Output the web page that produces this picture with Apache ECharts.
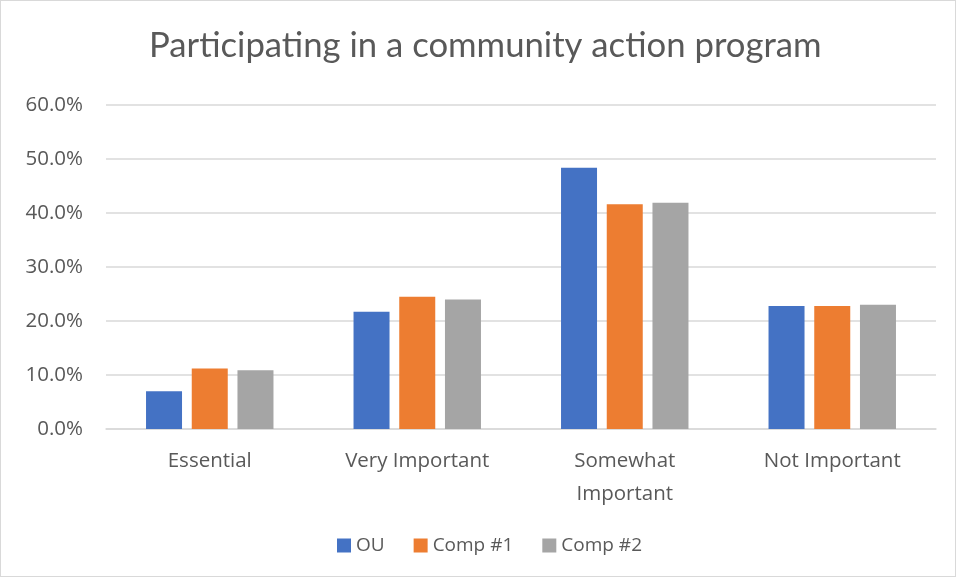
<!DOCTYPE html>
<html><head><meta charset="utf-8">
<script src="https://cdn.jsdelivr.net/npm/echarts@6/dist/echarts.min.js"></script>
<style>html,body{margin:0;padding:0;background:#fff}#c{width:956px;height:577px;box-sizing:border-box;border:1px solid #d9d9d9}</style>
</head><body><div id="c"></div>
<script>
const categories = ['Essential', 'Very Important', 'Somewhat\nImportant', 'Not Important'];
const ou = [7.0, 21.7, 48.4, 22.8];
const comp1 = [11.2, 24.5, 41.6, 22.8];
const comp2 = [10.9, 24.0, 41.9, 23.0];
const seriesNames = ['OU', 'Comp #1', 'Comp #2'];
const colors = ['#4472C4', '#ED7D31', '#A5A5A5'];
const font = 'Open Sans';
const chart = echarts.init(document.getElementById('c'));
const mk = (name, data, color) => ({
  name, type: 'bar', data, barWidth: 36, barGap: '27%',
  itemStyle: { color }
});
chart.setOption({
  animation: false,
  title: { text: 'Participating in a community action program', left: 143, top: 22,
    textStyle: { fontFamily: 'Lato', fontSize: 34.7, fontWeight: 'normal', color: '#595959' } },
  legend: { left: 331, bottom: 16, itemWidth: 14, itemHeight: 14, itemGap: 29, icon: 'rect',
    textStyle: { fontFamily: font, fontSize: 19, color: '#595959' }, data: seriesNames },
  grid: { left: 105, right: 19, top: 104, bottom: 147 },
  xAxis: { type: 'category', data: categories,
    axisLine: { lineStyle: { color: '#d9d9d9', width: 1.5 } }, axisTick: { show: false },
    axisLabel: { fontFamily: font, fontSize: 20.5, color: '#595959', margin: 16, lineHeight: 33 } },
  yAxis: { type: 'value', min: 0, max: 60, interval: 10,
    axisLabel: { formatter: v => v.toFixed(1) + '%', fontFamily: font, fontSize: 20.5, color: '#595959', margin: 23 },
    splitLine: { lineStyle: { color: '#d9d9d9', width: 1.5 } }, axisLine: { show: false }, axisTick: { show: false } },
  series: [mk(seriesNames[0], ou, colors[0]), mk(seriesNames[1], comp1, colors[1]), mk(seriesNames[2], comp2, colors[2])]
});
</script></body></html>
